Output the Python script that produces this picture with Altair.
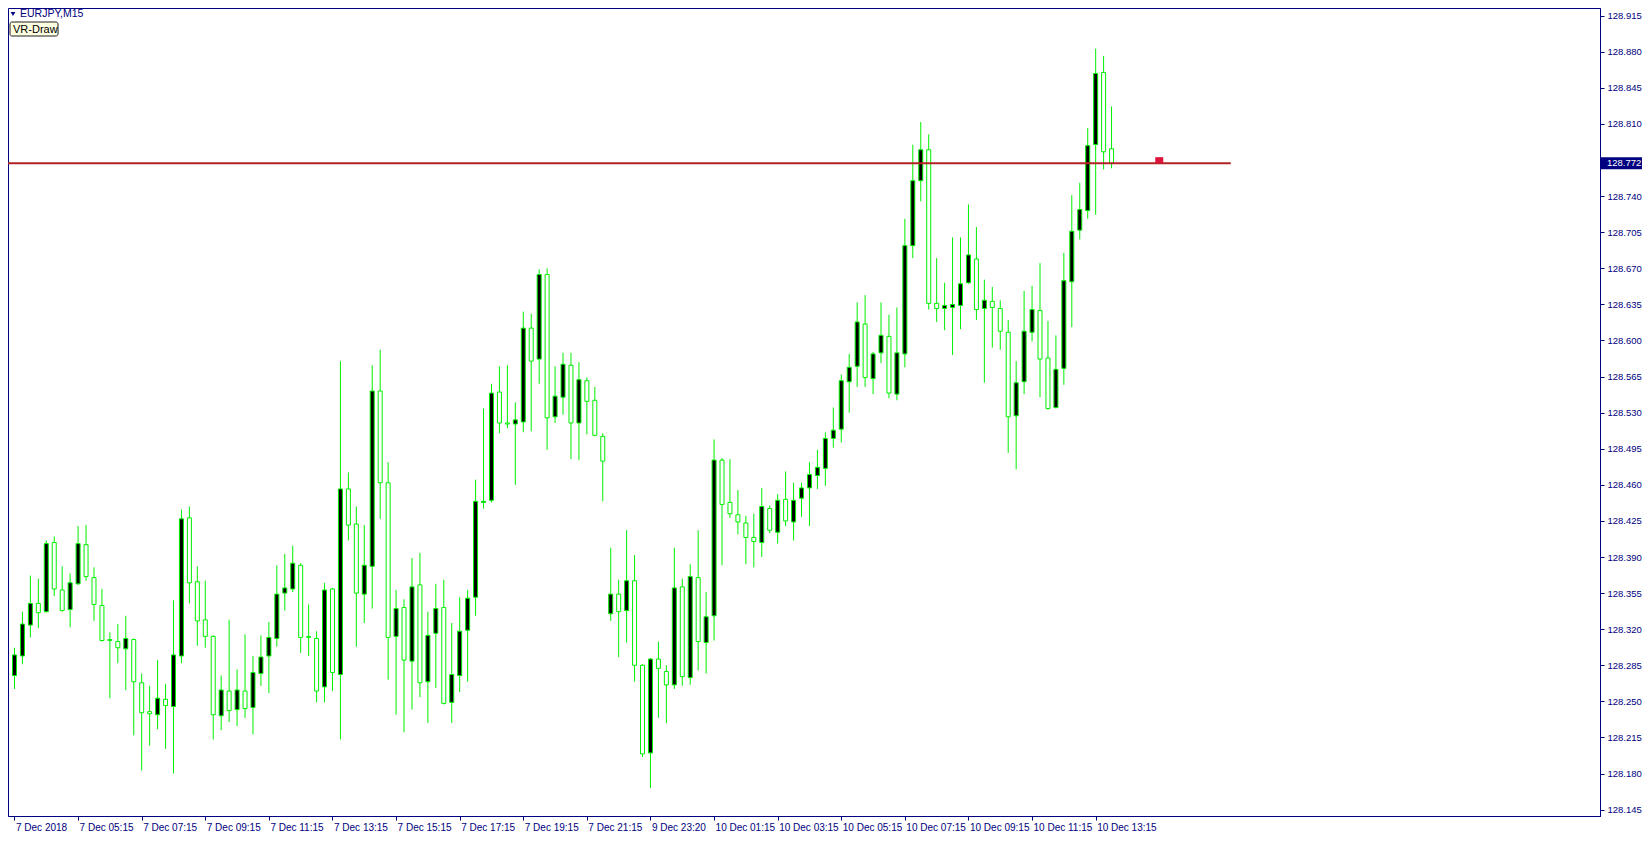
import json
import altair as alt
import pandas as pd

# ---------------- data (EURJPY, M15) ----------------
opens = [128.275, 128.294, 128.324, 128.345, 128.337, 128.404, 128.358, 128.339, 128.364, 128.402,
         128.370, 128.343, 128.310, 128.308, 128.301, 128.310, 128.268, 128.240, 128.237, 128.252,
         128.245, 128.294, 128.428, 128.366, 128.329, 128.313, 128.236, 128.260, 128.242, 128.260,
         128.244, 128.277, 128.294, 128.311, 128.355, 128.359, 128.382, 128.313, 128.311, 128.264,
         128.359, 128.276, 128.456, 128.422, 128.354, 128.381, 128.551, 128.462, 128.313, 128.341,
         128.289, 128.363, 128.269, 128.316, 128.341, 128.249, 128.275, 128.319, 128.351, 128.443,
         128.445, 128.550, 128.520, 128.519, 128.521, 128.612, 128.582, 128.664, 128.526, 128.545,
         128.576, 128.520, 128.561, 128.542, 128.507, 128.335, 128.354, 128.338, 128.367, 128.285,
         128.200, 128.291, 128.279, 128.266, 128.361, 128.273, 128.370, 128.307, 128.333, 128.484,
         128.443, 128.431, 128.423, 128.409, 128.404, 128.437, 128.414, 128.446, 128.424, 128.447,
         128.457, 128.469, 128.476, 128.505, 128.514, 128.560, 128.575, 128.616, 128.563, 128.588,
         128.604, 128.548, 128.587, 128.692, 128.755, 128.785, 128.636, 128.631, 128.632, 128.634,
         128.656, 128.679, 128.631, 128.638, 128.631, 128.608, 128.527, 128.560, 128.608, 128.629,
         128.583, 128.535, 128.573, 128.657, 128.707, 128.726, 128.790, 128.860, 128.786]
highs = [128.302, 128.337, 128.372, 128.369, 128.406, 128.410, 128.381, 128.374, 128.420, 128.421,
         128.380, 128.359, 128.317, 128.325, 128.333, 128.311, 128.277, 128.265, 128.290, 128.267,
         128.348, 128.436, 128.439, 128.381, 128.367, 128.314, 128.275, 128.329, 128.281, 128.315,
         128.294, 128.314, 128.327, 128.382, 128.393, 128.401, 128.384, 128.344, 128.318, 128.365,
         128.360, 128.580, 128.472, 128.439, 128.421, 128.576, 128.591, 128.482, 128.358, 128.349,
         128.389, 128.394, 128.337, 128.364, 128.368, 128.326, 128.351, 128.358, 128.465, 128.534,
         128.558, 128.575, 128.576, 128.540, 128.628, 128.626, 128.669, 128.670, 128.575, 128.588,
         128.588, 128.579, 128.564, 128.555, 128.510, 128.399, 128.368, 128.416, 128.392, 128.286,
         128.292, 128.308, 128.285, 128.399, 128.369, 128.383, 128.416, 128.356, 128.504, 128.486,
         128.485, 128.455, 128.430, 128.432, 128.457, 128.440, 128.451, 128.473, 128.462, 128.462,
         128.482, 128.494, 128.511, 128.535, 128.567, 128.587, 128.637, 128.644, 128.589, 128.637,
         128.625, 128.632, 128.718, 128.790, 128.812, 128.800, 128.680, 128.656, 128.700, 128.700,
         128.732, 128.710, 128.659, 128.652, 128.639, 128.620, 128.580, 128.648, 128.653, 128.675,
         128.619, 128.605, 128.685, 128.741, 128.753, 128.806, 128.883, 128.876, 128.827]
lows = [128.262, 128.286, 128.312, 128.321, 128.336, 128.352, 128.337, 128.322, 128.363, 128.367,
        128.328, 128.308, 128.253, 128.287, 128.261, 128.217, 128.183, 128.207, 128.223, 128.204,
        128.180, 128.287, 128.345, 128.304, 128.302, 128.213, 128.222, 128.230, 128.226, 128.234,
        128.218, 128.265, 128.258, 128.303, 128.338, 128.356, 128.297, 128.294, 128.249, 128.249,
        128.260, 128.213, 128.406, 128.303, 128.326, 128.340, 128.427, 128.271, 128.237, 128.220,
        128.242, 128.254, 128.229, 128.263, 128.247, 128.229, 128.259, 128.269, 128.333, 128.437,
        128.443, 128.510, 128.515, 128.460, 128.511, 128.512, 128.558, 128.494, 128.520, 128.528,
        128.485, 128.484, 128.509, 128.507, 128.444, 128.328, 128.293, 128.307, 128.269, 128.196,
        128.166, 128.234, 128.229, 128.262, 128.265, 128.266, 128.280, 128.277, 128.309, 128.382,
        128.428, 128.412, 128.383, 128.380, 128.390, 128.413, 128.403, 128.420, 128.406, 128.429,
        128.420, 128.456, 128.459, 128.496, 128.501, 128.530, 128.555, 128.555, 128.548, 128.578,
        128.544, 128.542, 128.574, 128.680, 128.735, 128.630, 128.618, 128.610, 128.586, 128.611,
        128.655, 128.620, 128.559, 128.593, 128.591, 128.491, 128.475, 128.548, 128.599, 128.545,
        128.533, 128.534, 128.557, 128.613, 128.698, 128.718, 128.722, 128.766, 128.767]
closes = [128.295, 128.325, 128.345, 128.336, 128.403, 128.359, 128.338, 128.365, 128.403, 128.371,
          128.344, 128.309, 128.309, 128.302, 128.311, 128.269, 128.239, 128.238, 128.253, 128.246,
          128.295, 128.427, 128.365, 128.328, 128.313, 128.237, 128.261, 128.241, 128.261, 128.243,
          128.278, 128.293, 128.312, 128.354, 128.360, 128.384, 128.312, 128.312, 128.260, 128.358,
          128.278, 128.456, 128.421, 128.355, 128.382, 128.551, 128.462, 128.312, 128.340, 128.290,
          128.361, 128.268, 128.314, 128.340, 128.248, 128.276, 128.318, 128.350, 128.444, 128.444,
          128.549, 128.520, 128.519, 128.523, 128.612, 128.580, 128.664, 128.525, 128.546, 128.577,
          128.520, 128.562, 128.541, 128.508, 128.483, 128.354, 128.337, 128.367, 128.285, 128.199,
          128.291, 128.282, 128.266, 128.360, 128.274, 128.371, 128.308, 128.332, 128.484, 128.441,
          128.432, 128.424, 128.409, 128.405, 128.439, 128.416, 128.445, 128.425, 128.445, 128.457,
          128.470, 128.477, 128.505, 128.513, 128.561, 128.574, 128.618, 128.564, 128.587, 128.605,
          128.549, 128.588, 128.692, 128.755, 128.785, 128.636, 128.631, 128.634, 128.635, 128.655,
          128.683, 128.630, 128.639, 128.632, 128.609, 128.526, 128.559, 128.609, 128.630, 128.582,
          128.534, 128.572, 128.658, 128.706, 128.727, 128.789, 128.859, 128.783, 128.772]

time_labels = ["7 Dec 2018", "7 Dec 05:15", "7 Dec 07:15", "7 Dec 09:15", "7 Dec 11:15",
               "7 Dec 13:15", "7 Dec 15:15", "7 Dec 17:15", "7 Dec 19:15", "7 Dec 21:15",
               "9 Dec 23:20", "10 Dec 01:15", "10 Dec 03:15", "10 Dec 05:15", "10 Dec 07:15",
               "10 Dec 09:15", "10 Dec 11:15", "10 Dec 13:15"]
price_ticks = [128.145, 128.180, 128.215, 128.250, 128.285, 128.320, 128.355, 128.390,
               128.425, 128.460, 128.495, 128.530, 128.565, 128.600, 128.635, 128.670,
               128.705, 128.740, 128.810, 128.845, 128.880, 128.915]
current_price = [128.772]
hline_price = [128.772]
hline_bars = [-1, 153]
marker_bar = [144]
symbol_title = ["EURJPY,M15"]
button_text = ["VR-Draw"]

# ---------------- style ----------------
GREEN = "#00F000"
NAVY = "#000080"
FONT = "Liberation Sans"
W, H = 1592, 808
BAR_STEP = 8  # one time label every 8 bars

n = len(opens)
df = pd.DataFrame({
    "i": list(range(n)),
    "open": opens, "high": highs, "low": lows, "close": closes,
})
df["dir"] = ["up" if c > o else "down" for o, c in zip(opens, closes)]

x0 = -1.5 / 8
xscale = alt.Scale(domain=[x0, x0 + W / 8], nice=False, zero=False)
yscale = alt.Scale(domain=[128.1388, 128.9225], nice=False, zero=False)

label_expr = json.dumps(time_labels) + "[round(datum.value / 8)]"
xaxis = alt.Axis(values=list(range(0, BAR_STEP * len(time_labels), BAR_STEP)), labelExpr=label_expr,
                 labelAlign="left", labelOffset=1, labelPadding=2, tickSize=4,
                 domainColor=NAVY, tickColor=NAVY, labelColor=NAVY, labelFont=FONT,
                 labelFontSize=10, title=None, grid=False, labelOverlap=False, labelFlush=False)
yaxis = alt.Axis(orient="right", values=price_ticks, format=".3f", tickSize=4, labelPadding=3,
                 domainColor=NAVY, tickColor=NAVY, labelColor=NAVY, labelFont=FONT,
                 labelFontSize=9.5, title=None, grid=False, labelOverlap=False, labelFlush=False,
                 labelBound=False)


def X(field):
    return alt.X(field, scale=xscale, axis=xaxis)


def Y(field):
    return alt.Y(field, scale=yscale, axis=yaxis)


base = alt.Chart(df)
wicks = base.mark_rule(color=GREEN, strokeWidth=1).encode(
    x=X("i:Q"), y=Y("low:Q"), y2="high:Q",
)
bodies = base.mark_bar(width=4, stroke=GREEN, strokeWidth=1).encode(
    x=X("i:Q"), y=Y("open:Q"), y2="close:Q",
    fill=alt.Fill("dir:N", scale=alt.Scale(domain=["up", "down"], range=["#000000", "#FFFFFF"]), legend=None),
)

hline_df = pd.DataFrame({"x1": [hline_bars[0]], "x2": [hline_bars[1]], "p": hline_price})
hline = alt.Chart(hline_df).mark_rule(color="#B22222", strokeWidth=2, clip=True).encode(
    x=X("x1:Q"), x2="x2:Q", y=Y("p:Q")
)
marker_df = pd.DataFrame({"i": marker_bar, "p": hline_price})
marker = alt.Chart(marker_df).mark_rect(color="#DC143C", xOffset=-4, x2Offset=4, yOffset=-6, y2Offset=0).encode(
    x=X("i:Q"), x2="i:Q", y=Y("p:Q"), y2="p:Q"
)

cp_df = pd.DataFrame({"p": current_price, "t": [f"{v:.3f}" for v in current_price]})
cp_box = alt.Chart(cp_df).mark_rect(color=NAVY, clip=False, yOffset=-6, y2Offset=6).encode(
    x=alt.value(W + 1), x2=alt.value(W + 42), y=Y("p:Q"), y2="p:Q"
)
cp_text = alt.Chart(cp_df).mark_text(color="white", align="left", baseline="middle", font=FONT,
                                     fontSize=9.5, clip=False).encode(
    x=alt.value(W + 7), y=Y("p:Q"), text="t:N"
)

title_df = pd.DataFrame({"t": symbol_title})
tri = alt.Chart(title_df).mark_point(shape="triangle-down", filled=True, size=22, color=NAVY, opacity=1).encode(
    x=alt.value(5), y=alt.value(6)
)
title_text = alt.Chart(title_df).mark_text(align="left", baseline="middle", color=NAVY, font=FONT,
                                           fontSize=10.5).encode(
    x=alt.value(12), y=alt.value(6), text="t:N"
)
btn_df = pd.DataFrame({"t": button_text})
btn_box = alt.Chart(btn_df).mark_rect(fill="#FFFFE1", stroke="#202020", strokeWidth=1, cornerRadius=2).encode(
    x=alt.value(2), x2=alt.value(50), y=alt.value(14), y2=alt.value(28)
)
btn_text = alt.Chart(btn_df).mark_text(align="left", baseline="middle", color="#000000", font=FONT,
                                       fontSize=11).encode(
    x=alt.value(5), y=alt.value(21.5), text="t:N"
)

chart = alt.layer(
    wicks, bodies, hline, marker, cp_box, cp_text, tri, title_text, btn_box, btn_text
).properties(
    width=W, height=H, padding={"left": 0, "top": 0, "right": 0, "bottom": 0}, background="white"
).configure_view(
    stroke=NAVY, strokeWidth=1
).configure_axis(
    labelOverlap=False
)

chart.save("out.html", embed_options={"renderer": "svg", "actions": False})
